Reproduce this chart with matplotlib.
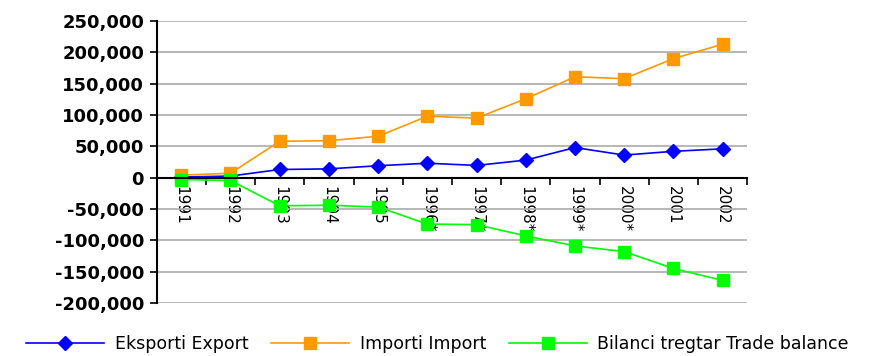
import numpy as np
import matplotlib.pyplot as plt
from matplotlib.ticker import FuncFormatter, FixedLocator

years = ['1991', '1992', '1993', '1994', '1995', '1996*', '1997*',
         '1998*', '1999*', '2000*', '2001', '2002']
export = [1000, 2500, 13000, 14000, 19000, 23000, 19500, 28000, 48000, 36000, 42000, 46000]
imports = [4000, 7000, 58000, 59000, 66000, 98000, 95000, 126000, 161000, 158000, 190000, 213000]
balance = [-3000, -4500, -45000, -44000, -47000, -74000, -75000, -93000, -109000, -118000, -145000, -164000]

fig = plt.figure(figsize=(8.75, 3.56), dpi=100)
ax = fig.add_axes([0.179, 0.149, 0.675, 0.792])

x = np.arange(len(years))
ax.plot(x, export, color='#0000ff', lw=1.2, marker='D', ms=7.5, label='Eksporti Export')
ax.plot(x, imports, color='#ff9900', lw=1.2, marker='s', ms=8.5, label='Importi Import')
ax.plot(x, balance, color='#00ff00', lw=1.2, marker='s', ms=8.5, label='Bilanci tregtar Trade balance')

ax.set_xlim(-0.5, len(years) - 0.5)
ax.set_ylim(-200000, 250000)
ax.set_yticks(np.arange(-200000, 250001, 50000))
ax.yaxis.set_major_formatter(FuncFormatter(lambda v, p: f'{int(v):,}'))
ax.yaxis.grid(True, color='#aaaaaa', lw=1.2)
ax.set_axisbelow(True)
for lab in ax.get_yticklabels():
    lab.set_fontweight('bold')
    lab.set_fontsize(13)
ax.tick_params(axis='y', length=5, width=1.2, pad=4)

ax.spines['top'].set_visible(False)
ax.spines['right'].set_visible(False)
ax.spines['left'].set_linewidth(1.5)
ax.spines['bottom'].set_position(('data', 0))
ax.spines['bottom'].set_linewidth(1.5)

ax.set_xticks(x)
ax.set_xticklabels(years, rotation=-90, fontsize=11, va='top')
ax.tick_params(axis='x', which='major', length=0, pad=6)
ax.xaxis.set_minor_locator(FixedLocator(np.arange(0.5, len(years), 1.0)))
ax.tick_params(axis='x', which='minor', length=5, width=1.2, direction='out')

fig.legend(loc='lower center', bbox_to_anchor=(0.5, -0.035), ncol=3, frameon=False,
           fontsize=12.5, handlelength=4.5, columnspacing=1.3, handletextpad=0.6)

fig.savefig('out.png', dpi=100)
